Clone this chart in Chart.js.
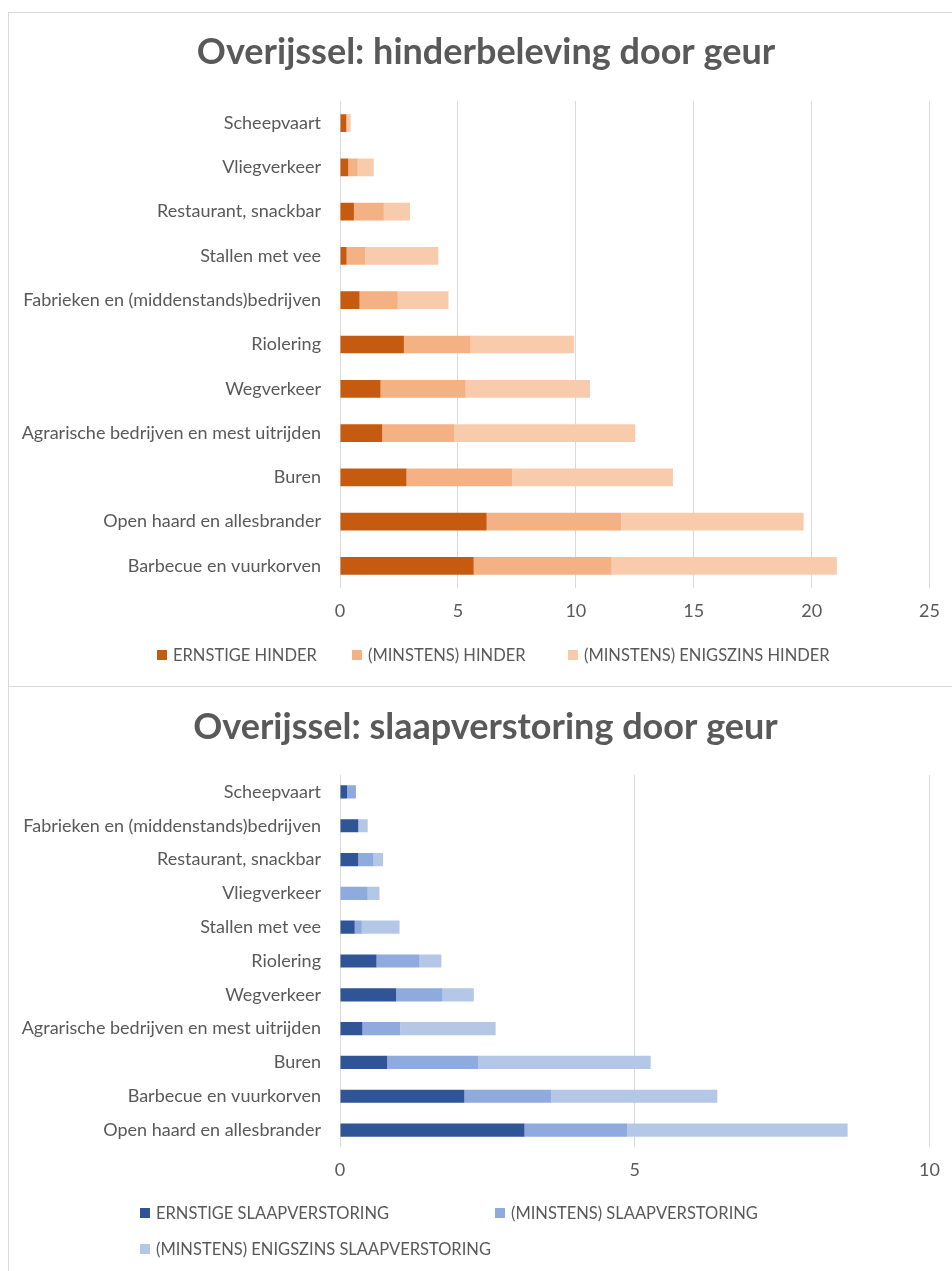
<!DOCTYPE html>
<html><head><meta charset="utf-8">
<script src="https://cdn.jsdelivr.net/npm/chart.js@4.4.1/dist/chart.umd.min.js"></script>
<style>
html,body{margin:0;padding:0;background:#fff;}
body{width:952px;height:1271px;position:relative;overflow:hidden;font-family:Lato,sans-serif;}
.box{position:absolute;border:1px solid #d9d9d9;box-sizing:border-box;}
#box1{left:8px;top:12px;width:960px;height:675px;}
#box2{left:8px;top:686px;width:960px;height:620px;}
canvas{position:absolute;left:0;}
#c1{top:0;}
#c2{top:686px;}
.item{position:absolute;display:flex;align-items:center;color:#595959;font-size:16.5px;white-space:nowrap;line-height:18px;}
.sw{width:10px;height:10px;margin-right:6px;flex:none;}
</style>
</head><body>
<div class="box" id="box1"></div>
<div class="box" id="box2"></div>
<canvas id="c1" width="952" height="686"></canvas>
<canvas id="c2" width="952" height="585"></canvas>
<div id="leg1"></div>
<div id="leg2"></div>
<script>
// ---- Data: hinder ----
const hinderCategories = ['Scheepvaart','Vliegverkeer','Restaurant, snackbar','Stallen met vee','Fabrieken en (middenstands)bedrijven','Riolering','Wegverkeer','Agrarische bedrijven en mest uitrijden','Buren','Open haard en allesbrander','Barbecue en vuurkorven'];
const ernstigeHinder  = [0.26,0.35,0.59,0.28,0.83,2.71,1.72,1.79,2.82,6.22,5.67];
const minstensHinder  = [0.04,0.40,1.27,0.78,1.62,2.83,3.61,3.07,4.48,5.71,5.85];
const enigszinsHinder = [0.15,0.68,1.11,3.11,2.15,4.39,5.27,7.66,6.82,7.73,9.55];
const hinderTicks = [0,5,10,15,20,25];

// ---- Data: slaapverstoring ----
const slaapCategories = ['Scheepvaart','Fabrieken en (middenstands)bedrijven','Restaurant, snackbar','Vliegverkeer','Stallen met vee','Riolering','Wegverkeer','Agrarische bedrijven en mest uitrijden','Buren','Barbecue en vuurkorven','Open haard en allesbrander'];
const ernstigeSlaap  = [0.12,0.31,0.31,0.00,0.25,0.62,0.95,0.38,0.80,2.11,3.13];
const minstensSlaap  = [0.15,0.00,0.26,0.47,0.12,0.73,0.79,0.64,1.55,1.47,1.74];
const enigszinsSlaap = [0.00,0.16,0.16,0.20,0.64,0.37,0.53,1.62,2.92,2.82,3.74];
const slaapTicks = [0,5,10];

const hinderLabels = ['ERNSTIGE HINDER','(MINSTENS) HINDER','(MINSTENS) ENIGSZINS HINDER'];
const slaapLabels = ['ERNSTIGE SLAAPVERSTORING','(MINSTENS) SLAAPVERSTORING','(MINSTENS) ENIGSZINS SLAAPVERSTORING'];
const orange = ['#c55a11','#f4b183','#f8cbad'];
const blue = ['#2f5597','#8faadc','#b4c7e7'];

const TXT = '#595959';
const FONT = 'Lato';

// widen the label clip area of the category axis so long labels are not cut
const widenLabels = {
  id: 'widenLabels',
  afterLayout(chart) { chart.scales.y.left = 0; }
};

function makeChart(id, title, cats, series, labels, colors, ticks, barPct, pad, titlePad) {
  const max = ticks[ticks.length-1];
  return new Chart(document.getElementById(id), {
    type: 'bar',
    plugins: [widenLabels],
    data: {
      labels: cats,
      datasets: series.map((s,i)=>({label: labels[i], data: s, backgroundColor: colors[i], borderWidth: 0,
        barPercentage: barPct, categoryPercentage: 1}))
    },
    options: {
      indexAxis: 'y', responsive: false, animation: false,
      layout: {padding: pad},
      plugins: {
        legend: {display: false},
        tooltip: {enabled: false},
        title: {display: true, text: title, color: TXT, font: {family: FONT, size: 36, weight: 'bold', lineHeight: 1.2}, padding: titlePad}
      },
      scales: {
        x: {stacked: true, min: 0, max: max,
          afterBuildTicks: (s)=>{ s.ticks = ticks.map(v=>({value:v})); },
          ticks: {color: TXT, font: {family: FONT, size: 18}, padding: 12},
          grid: {color: '#d9d9d9', drawTicks: false, lineWidth: 1},
          border: {display: false},
          afterFit: (s)=>{ s.height = 40; }},
        y: {stacked: true,
          ticks: {color: TXT, font: {family: FONT, size: 18}, padding: 11},
          grid: {display: false},
          border: {display: false},
          afterFit: (s)=>{ s.width = 340 - pad.left; }}
      }
    }
  });
}

makeChart('c1','Overijssel: hinderbeleving door geur', hinderCategories,
  [ernstigeHinder, minstensHinder, enigszinsHinder], hinderLabels, orange, hinderTicks, 0.4,
  {left:41,right:21,top:12,bottom:58}, {top:18.4,bottom:27.4});
makeChart('c2','Overijssel: slaapverstoring door geur', slaapCategories,
  [ernstigeSlaap, minstensSlaap, enigszinsSlaap], slaapLabels, blue, slaapTicks, 0.39,
  {left:41,right:22,top:0,bottom:84}, {top:19.4,bottom:26.4});

function legend(containerId, labels, colors, positions) {
  const c = document.getElementById(containerId);
  labels.forEach((l,i)=>{
    const d = document.createElement('div');
    d.className = 'item';
    d.style.left = positions[i][0] + 'px';
    d.style.top = (positions[i][1] - 9) + 'px';
    const sw = document.createElement('span'); sw.className = 'sw'; sw.style.background = colors[i];
    const t = document.createElement('span'); t.textContent = l;
    d.appendChild(sw); d.appendChild(t); c.appendChild(d);
  });
}
legend('leg1', hinderLabels, orange, [[157,655],[352,655],[568,655]]);
legend('leg2', slaapLabels, blue, [[140,1213],[495,1213],[140,1249]]);
</script>
</body></html>
